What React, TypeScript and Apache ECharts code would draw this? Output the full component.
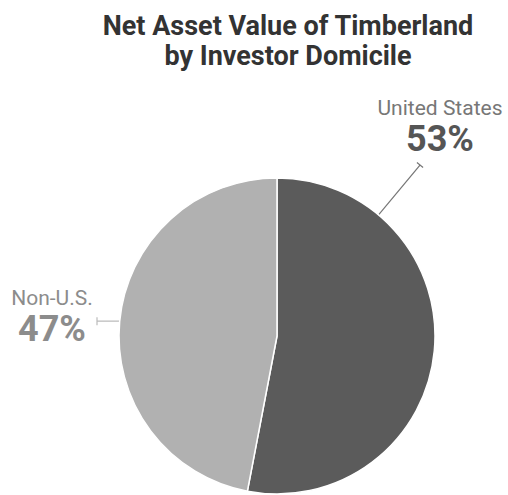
import React, { useEffect, useRef } from "react";
import * as echarts from "echarts";

const titleLines = ["Net Asset Value of Timberland", "by Investor Domicile"];
const categories = ["United States", "Non-U.S."];
const values = [53, 47];
const sliceColors = ["#5b5b5b", "#b1b1b1"];
const nameColors = ["#777777", "#8c8c8c"];
const pctColors = ["#555555", "#8c8c8c"];

const CX = 277;
const CY = 336;
const R = 158;

function edgePoint(deg: number): [number, number] {
  const a = (deg * Math.PI) / 180;
  return [CX + R * Math.sin(a), CY - R * Math.cos(a)];
}

function tickLine(start: [number, number], end: [number, number], half: number) {
  const dx = end[0] - start[0];
  const dy = end[1] - start[1];
  const len = Math.sqrt(dx * dx + dy * dy) || 1;
  const px = (-dy / len) * half;
  const py = (dx / len) * half;
  return [start, end, [end[0] + px, end[1] + py], [end[0] - px, end[1] - py]];
}

export default function App() {
  const ref = useRef<HTMLDivElement>(null);
  useEffect(() => {
    if (!ref.current) return;
    const chart = echarts.init(ref.current, null, { renderer: "svg" });
    const total = values.reduce((a, b) => a + b, 0);
    const nonMid = ((values[0] + values[1] / 2) / total) * 360;
    const usStart = edgePoint(40);
    const nonStart = edgePoint(nonMid);
    chart.setOption({
      animation: false,
      backgroundColor: "#ffffff",
      title: {
        text: titleLines.join("\n"),
        left: 283,
        textAlign: "center",
        top: 6,
        textStyle: {
          fontFamily: "Roboto",
          fontSize: 27,
          fontWeight: "bold",
          color: "#333333",
          lineHeight: 30,
        },
      },
      series: [
        {
          type: "pie",
          center: [CX, CY],
          radius: R,
          startAngle: 90,
          clockwise: true,
          silent: true,
          itemStyle: { borderColor: "#ffffff", borderWidth: 1.5 },
          label: {
            show: true,
            position: "outside",
            alignTo: "none",
            overflow: "none",
            width: 200,
            fontFamily: "Roboto",
            formatter: (p: any) => `{n|${p.name}}\n{p|${p.value}%}`,
          },
          labelLine: { show: true, lineStyle: { width: 1.2 } },
          labelLayout: (params: any) => {
            if (params.dataIndex === 0) {
              return {
                x: 440,
                y: 95,
                align: "center",
                verticalAlign: "top",
                labelLinePoints: tickLine(usStart, [420, 165], 4),
              };
            }
            return {
              x: 52,
              y: 285,
              align: "center",
              verticalAlign: "top",
              labelLinePoints: tickLine(nonStart, [97, nonStart[1]], 4),
            };
          },
          data: categories.map((c, i) => ({
            name: c,
            value: values[i],
            itemStyle: { color: sliceColors[i] },
            labelLine: { lineStyle: { color: i === 0 ? "#777777" : "#bbbbbb" } },
            label: {
              rich: {
                n: { fontFamily: "Roboto", fontSize: 21, color: nameColors[i], lineHeight: 25, align: "center" },
                p: { fontFamily: "Roboto", fontSize: 36, fontWeight: "bold", color: pctColors[i], lineHeight: 38, align: "center" },
              },
            },
          })),
        },
      ],
    });
    return () => chart.dispose();
  }, []);
  return <div ref={ref} style={{ width: 508, height: 495, position: "absolute", left: 0, top: 0 }} />;
}
